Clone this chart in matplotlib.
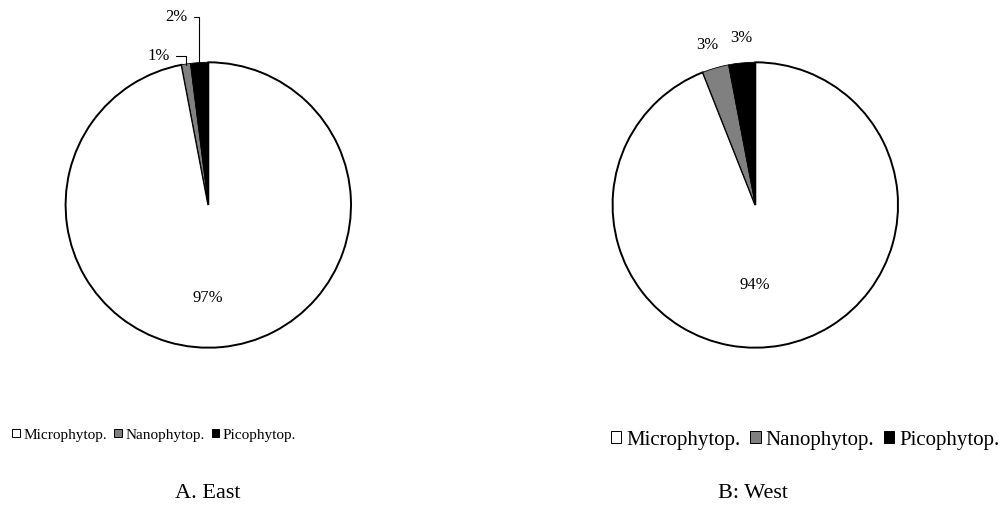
import numpy as np
import matplotlib.pyplot as plt

plt.rcParams['font.family'] = ['Liberation Serif', 'DejaVu Serif']

categories = ['Microphytop.', 'Nanophytop.', 'Picophytop.']
colors = ['white', '#808080', 'black']
east_values = [97, 1, 2]
west_values = [94, 3, 3]
east_labels = ['97%', '1%', '2%']
west_labels = ['94%', '3%', '3%']

W, H = 1006, 525
fig = plt.figure(figsize=(W / 100, H / 100), dpi=100)


def px(x, y):
    # pixel position (top-left origin) -> figure fraction
    return x / W, 1 - y / H


def pie_axes(cx, cy, r):
    return fig.add_axes([(cx - r) / W, (H - cy - r) / H, 2 * r / W, 2 * r / H])


def draw_pie(ax, values):
    wedges, _ = ax.pie(values, colors=colors, startangle=90, counterclock=False,
                       wedgeprops=dict(edgecolor='black', linewidth=1.4))
    for w in wedges[1:]:
        w.set_linewidth(0.6)
    ax.set_xlim(-1, 1)
    ax.set_ylim(-1, 1)
    ax.set_aspect('equal')
    ax.axis('off')
    return wedges


def edge_point(w):
    a = np.deg2rad((w.theta1 + w.theta2) / 2)
    return np.cos(a) * 0.99, np.sin(a) * 0.99


lbl_size = 12

# A. East
ax1 = pie_axes(208.3, 205, 142.7)
wedges = draw_pie(ax1, east_values)
ax1.text(0, -0.655, east_labels[0], ha='center', va='center', fontsize=lbl_size)
# the two thin slices get leader lines
for w, lab, pos in [(wedges[1], east_labels[1], (170, 56)),
                    (wedges[2], east_labels[2], (188, 17))]:
    ax1.annotate(lab, xy=edge_point(w), xycoords='data',
                 xytext=px(*pos), textcoords='figure fraction',
                 ha='right', va='center', fontsize=lbl_size,
                 arrowprops=dict(arrowstyle='-', lw=0.8, color='black',
                                 connectionstyle='angle,angleA=0,angleB=90,rad=0',
                                 shrinkA=2, shrinkB=0))

# B: West
ax2 = pie_axes(755.3, 205, 142.7)
wedges = draw_pie(ax2, west_values)
ax2.text(0, -0.56, west_labels[0], ha='center', va='center', fontsize=lbl_size)
fig.text(*px(707, 45), west_labels[1], ha='center', va='center', fontsize=lbl_size)
fig.text(*px(741, 38), west_labels[2], ha='center', va='center', fontsize=lbl_size)

# legends
handles = [plt.Rectangle((0, 0), 1, 1, facecolor=c, edgecolor='black', lw=0.7)
           for c in colors]
leg_kw = dict(ncol=3, frameon=False, handlelength=0.5,
              handleheight=0.5, handletextpad=0.25, columnspacing=0.45,
              borderpad=0, borderaxespad=0)
fig.legend(handles, categories, loc='center left', fontsize=11,
           bbox_to_anchor=px(12, 435), **leg_kw)
fig.legend(handles, categories, loc='center left', fontsize=15,
           bbox_to_anchor=px(611, 440), **leg_kw)

fig.text(*px(208, 494), 'A. East', ha='center', va='center', fontsize=16)
fig.text(*px(753, 494), 'B: West', ha='center', va='center', fontsize=16)

fig.savefig('out.png', dpi=100)
